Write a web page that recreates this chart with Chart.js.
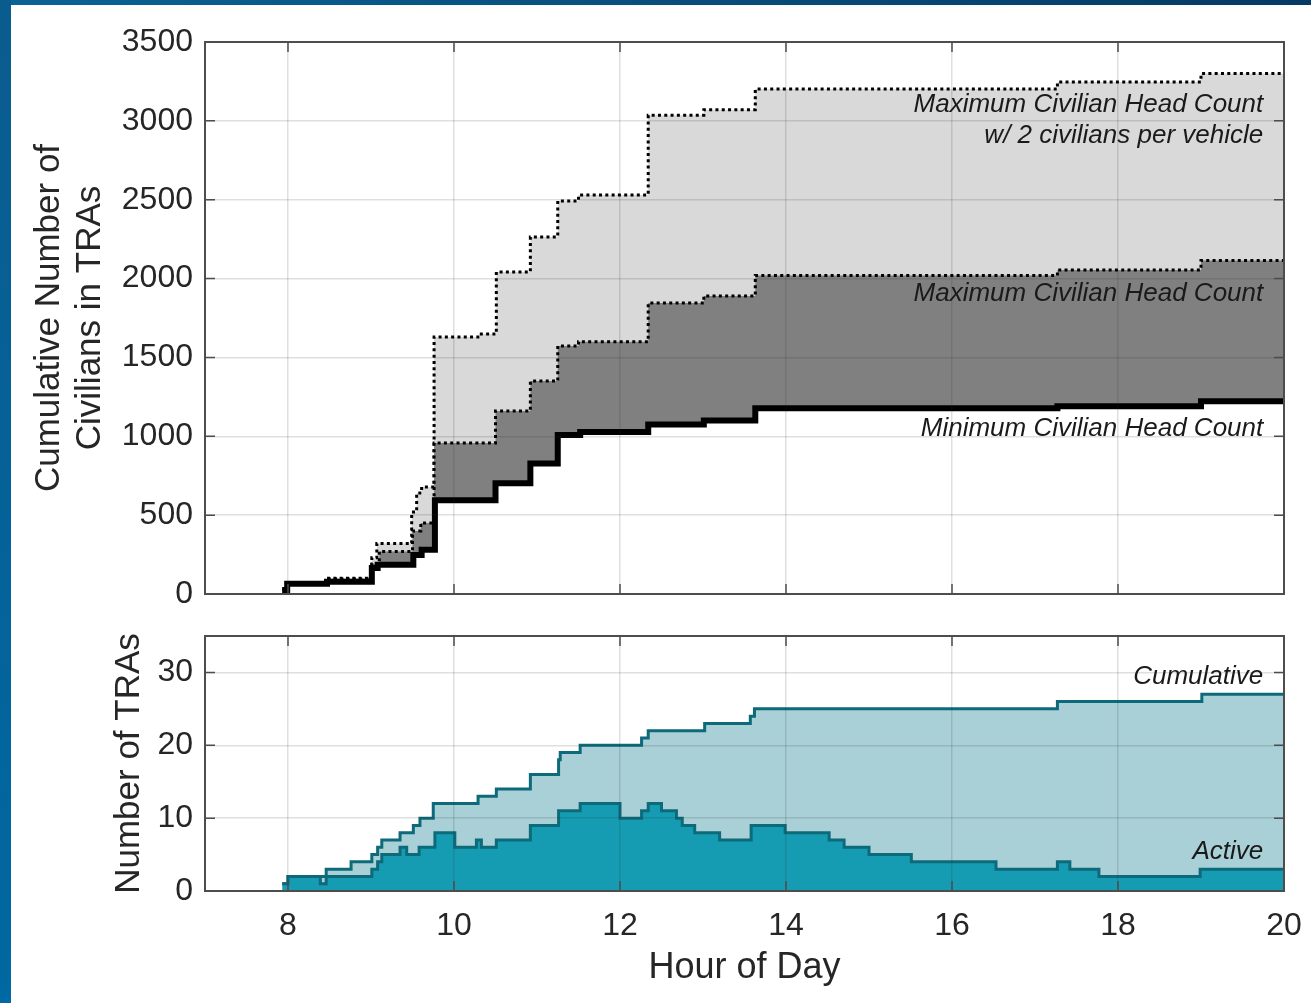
<!DOCTYPE html>
<html><head><meta charset="utf-8">
<script src="https://cdn.jsdelivr.net/npm/chart.js@4.4.1/dist/chart.umd.min.js"></script>
<style>
html,body{margin:0;padding:0;width:1311px;height:1003px;overflow:hidden;background:#fff;}
#frameTop{position:absolute;left:0;top:0;width:1311px;height:5px;background:linear-gradient(90deg,#0a6396,#053a64);}
#frameLeft{position:absolute;left:0;top:0;width:11px;height:1003px;background:linear-gradient(180deg,#0a5c8e,#0068a2);}
canvas{position:absolute;left:0;}
#c1{top:0;}
#c2{top:600px;}
</style></head><body>
<div id="frameTop"></div><div id="frameLeft"></div>
<canvas id="c1" width="1340" height="640"></canvas>
<canvas id="c2" width="1340" height="403"></canvas>
<script>
// ---------- DATA ----------
const xTickValues = [8, 10, 12, 14, 16, 18, 20];
const topYTicks = [0, 500, 1000, 1500, 2000, 2500, 3000, 3500];
const bottomYTicks = [0, 10, 20, 30];

// Minimum civilian head count (cumulative)
const minHours = [7.93, 7.99, 8.47, 9.01, 9.08, 9.51, 9.61, 9.77, 10.50, 10.92, 11.25, 11.52, 12.34, 13.01, 13.63, 17.27, 19.00, 20.00];
const minCount = [25, 65, 78, 165, 185, 248, 280, 595, 702, 828, 1008, 1027, 1075, 1100, 1178, 1190, 1222, 1222];

// Maximum civilian head count
const maxHours = [7.93, 7.99, 8.47, 9.01, 9.10, 9.50, 9.60, 9.76, 10.50, 10.92, 11.25, 11.50, 12.34, 13.01, 13.63, 17.27, 19.00, 20.00];
const maxCount = [25, 65, 95, 190, 270, 400, 450, 957, 1160, 1350, 1573, 1600, 1845, 1890, 2020, 2055, 2115, 2115];

// Maximum civilian head count with 2 civilians per vehicle
const max2Hours = [7.93, 7.99, 8.47, 9.01, 9.07, 9.49, 9.55, 9.61, 9.76, 10.31, 10.51, 10.92, 11.25, 11.50, 12.34, 13.01, 13.63, 17.27, 19.00, 20.00];
const max2Count = [25, 65, 100, 230, 320, 520, 640, 678, 1630, 1648, 2042, 2264, 2492, 2530, 3035, 3070, 3202, 3247, 3300, 3300];

// Number of TRAs: cumulative
const cumHours = [7.93, 8.00, 8.46, 8.76, 9.01, 9.08, 9.13, 9.35, 9.51, 9.59, 9.75, 10.29, 10.51, 10.92, 11.26, 11.28, 11.52, 12.26, 12.34, 13.02, 13.57, 13.62, 17.27, 19.01, 20.00];
const cumTRAs  = [1, 2, 3, 4, 5, 6, 7, 8, 9, 10, 12, 13, 14, 16, 18, 19, 20, 21, 22, 23, 24, 25, 26, 27, 27];

// Number of TRAs: active
const actHours = [7.93, 8.00, 8.39, 8.46, 9.01, 9.08, 9.13, 9.35, 9.43, 9.58, 9.77, 10.01, 10.27, 10.33, 10.51, 10.92, 11.26, 11.52, 12.00, 12.26, 12.34, 12.50, 12.68, 12.75, 12.90, 13.20, 13.58, 13.99, 14.52, 14.70, 15.00, 15.51, 16.53, 17.27, 17.42, 17.77, 18.99, 20.00];
const actTRAs  = [1, 2, 1, 2, 3, 4, 5, 6, 5, 6, 8, 6, 7, 6, 7, 9, 11, 12, 10, 11, 12, 11, 10, 9, 8, 7, 9, 8, 7, 6, 5, 4, 3, 4, 3, 2, 3, 3];

const topLabels = ['Maximum Civilian Head Count', 'w/ 2 civilians per vehicle', 'Maximum Civilian Head Count', 'Minimum Civilian Head Count'];
const bottomLabels = ['Cumulative', 'Active'];

// ---------- STYLE / HELPERS ----------
const FONT = '"Liberation Sans", Arial, Helvetica, sans-serif';
const TXT = '#262626';
const GRID = 'rgba(38,38,38,0.15)';
Chart.defaults.font.family = FONT;
Chart.defaults.color = TXT;

function pts(xs, ys) { return xs.map((x, i) => ({x: x, y: ys[i]})); }
function fixedTicks(arr) { return s => { s.ticks = arr.map(v => ({value: v})); }; }

const boxPlugin = {
  id: 'matlabBox',
  afterDraw(chart) {
    const {ctx, chartArea: a, scales} = chart;
    const L = 10;
    ctx.save();
    ctx.strokeStyle = '#4d4d4d';
    ctx.lineWidth = 1.5;
    ctx.beginPath();
    scales.x.ticks.forEach(t => {
      const px = scales.x.getPixelForValue(t.value);
      ctx.moveTo(px, a.bottom); ctx.lineTo(px, a.bottom - L);
      ctx.moveTo(px, a.top); ctx.lineTo(px, a.top + L);
    });
    scales.y.ticks.forEach(t => {
      const py = scales.y.getPixelForValue(t.value);
      ctx.moveTo(a.left, py); ctx.lineTo(a.left + L, py);
      ctx.moveTo(a.right, py); ctx.lineTo(a.right - L, py);
    });
    ctx.stroke();
    ctx.lineWidth = 2;
    ctx.strokeRect(a.left, a.top, a.right - a.left, a.bottom - a.top);
    ctx.restore();
  }
};

const notesPlugin = {
  id: 'notes',
  afterDraw(chart, args, opts) {
    const {ctx, scales} = chart;
    ctx.save();
    ctx.font = 'italic 26px ' + FONT;
    ctx.fillStyle = '#1a1a1a';
    ctx.textAlign = 'right';
    ctx.textBaseline = 'middle';
    (opts.items || []).forEach(it => {
      ctx.fillText(it.text, scales.x.getPixelForValue(it.x), scales.y.getPixelForValue(it.y));
    });
    ctx.restore();
  }
};

const gridOpts = {color: GRID, lineWidth: 1.5, drawTicks: false, z: 1};

// ---------- TOP CHART ----------
new Chart(document.getElementById('c1'), {
  type: 'line',
  data: {
    datasets: [
      {label: 'Minimum', data: pts(minHours, minCount), stepped: true, borderColor: '#000', borderWidth: 6,
       borderCapStyle: 'butt', borderJoinStyle: 'miter', pointRadius: 0, fill: 'origin', backgroundColor: '#ffffff'},
      {label: 'Maximum', data: pts(maxHours, maxCount), stepped: true, borderColor: '#000', borderWidth: 3,
       borderDash: [3, 3.3], borderCapStyle: 'butt', pointRadius: 0, fill: 'origin', backgroundColor: '#808080'},
      {label: 'Maximum x2', data: pts(max2Hours, max2Count), stepped: true, borderColor: '#000', borderWidth: 3,
       borderDash: [3, 3.3], borderCapStyle: 'butt', pointRadius: 0, fill: 'origin', backgroundColor: '#d9d9d9'}
    ]
  },
  options: {
    responsive: false, animation: false, devicePixelRatio: 1,
    layout: {padding: {left: 0, top: 42, right: 56, bottom: 46}},
    plugins: {
      legend: {display: false}, tooltip: {enabled: false},
      notes: {items: [
        {text: topLabels[0], x: 19.75, y: 3101},
        {text: topLabels[1], x: 19.75, y: 2904},
        {text: topLabels[2], x: 19.75, y: 1902},
        {text: topLabels[3], x: 19.75, y: 1046}
      ]}
    },
    scales: {
      x: {type: 'linear', min: 7, max: 20, afterBuildTicks: fixedTicks(xTickValues),
          ticks: {display: false}, grid: gridOpts, border: {display: false},
          afterFit: s => { s.height = 0; }},
      y: {type: 'linear', min: 0, max: 3500, afterBuildTicks: fixedTicks(topYTicks),
          ticks: {font: {size: 32}, color: TXT, padding: 12, callback: v => String(v)},
          grid: gridOpts, border: {display: false},
          title: {display: true, text: ['Cumulative Number of', 'Civilians in TRAs'], color: TXT,
                  font: {size: 35, lineHeight: 1.17}, padding: {top: 29, bottom: 0}},
          afterFit: s => { s.width = 205; }}
    }
  },
  plugins: [boxPlugin, notesPlugin]
});

// ---------- BOTTOM CHART ----------
new Chart(document.getElementById('c2'), {
  type: 'line',
  data: {
    datasets: [
      {label: 'Active', data: pts(actHours, actTRAs), stepped: true, borderColor: '#0d6a7a', borderWidth: 3,
       borderJoinStyle: 'miter', pointRadius: 0, fill: 'origin', backgroundColor: '#169cb2'},
      {label: 'Cumulative', data: pts(cumHours, cumTRAs), stepped: true, borderColor: '#0d6a7a', borderWidth: 3,
       borderJoinStyle: 'miter', pointRadius: 0, fill: 'origin', backgroundColor: '#a8d0d6'}
    ]
  },
  options: {
    responsive: false, animation: false, devicePixelRatio: 1,
    layout: {padding: {left: 0, top: 36, right: 56, bottom: 0}},
    plugins: {
      legend: {display: false}, tooltip: {enabled: false},
      notes: {items: [
        {text: bottomLabels[0], x: 19.75, y: 29.4},
        {text: bottomLabels[1], x: 19.75, y: 5.4}
      ]}
    },
    scales: {
      x: {type: 'linear', min: 7, max: 20, afterBuildTicks: fixedTicks(xTickValues),
          ticks: {font: {size: 32}, color: TXT, padding: 16, maxRotation: 0, autoSkip: false, callback: v => String(v)},
          grid: gridOpts, border: {display: false},
          title: {display: true, text: 'Hour of Day', color: TXT, font: {size: 36, lineHeight: 1.17}, padding: {top: 0, bottom: 14}},
          afterFit: s => { s.height = 112; }},
      y: {type: 'linear', min: 0, max: 35, afterBuildTicks: fixedTicks(bottomYTicks),
          ticks: {font: {size: 32}, color: TXT, padding: 12, callback: v => String(v)},
          grid: gridOpts, border: {display: false},
          title: {display: true, text: 'Number of TRAs', color: TXT, font: {size: 35, lineHeight: 1.17}, padding: {top: 109, bottom: 0}},
          afterFit: s => { s.width = 205; }}
    }
  },
  plugins: [boxPlugin, notesPlugin]
});
</script>
</body></html>
